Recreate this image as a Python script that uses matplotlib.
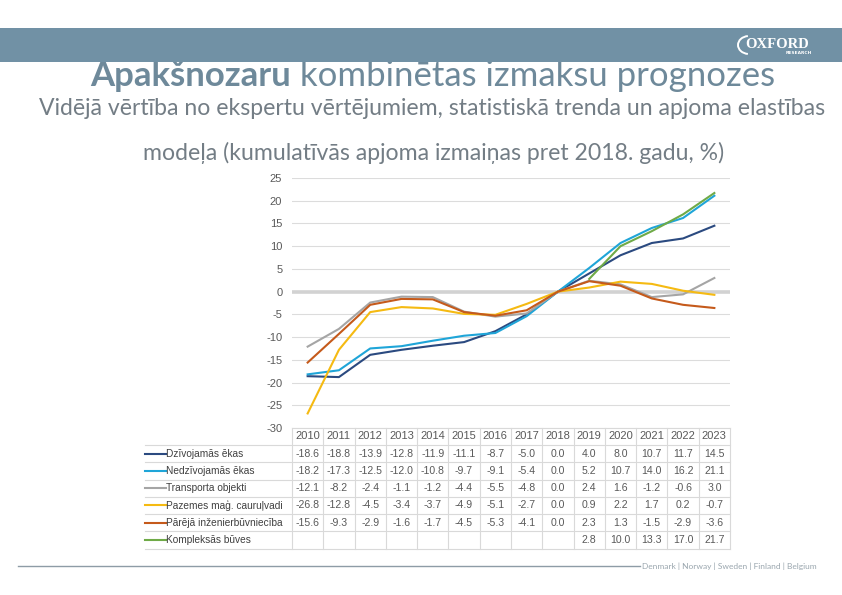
import matplotlib
matplotlib.use("Agg")
import matplotlib.pyplot as plt
import matplotlib.transforms as mtransforms
from matplotlib.patches import Rectangle, Arc
from matplotlib.lines import Line2D
import numpy as np

# ---------------- data ----------------
years = [2010, 2011, 2012, 2013, 2014, 2015, 2016, 2017, 2018, 2019, 2020, 2021, 2022, 2023]
series_names = ["Dzīvojamās ēkas", "Nedzīvojamās ēkas", "Transporta objekti",
                "Pazemes maģ. cauruļvadi", "Pārējā inženierbūvniecība", "Kompleksās būves"]
dzivojamas = [-18.6, -18.8, -13.9, -12.8, -11.9, -11.1, -8.7, -5.0, 0.0, 4.0, 8.0, 10.7, 11.7, 14.5]
nedzivojamas = [-18.2, -17.3, -12.5, -12.0, -10.8, -9.7, -9.1, -5.4, 0.0, 5.2, 10.7, 14.0, 16.2, 21.1]
transporta = [-12.1, -8.2, -2.4, -1.1, -1.2, -4.4, -5.5, -4.8, 0.0, 2.4, 1.6, -1.2, -0.6, 3.0]
pazemes = [-26.8, -12.8, -4.5, -3.4, -3.7, -4.9, -5.1, -2.7, 0.0, 0.9, 2.2, 1.7, 0.2, -0.7]
parejas = [-15.6, -9.3, -2.9, -1.6, -1.7, -4.5, -5.3, -4.1, 0.0, 2.3, 1.3, -1.5, -2.9, -3.6]
kompleksas = [None, None, None, None, None, None, None, None, None, 2.8, 10.0, 13.3, 17.0, 21.7]
series_values = [dzivojamas, nedzivojamas, transporta, pazemes, parejas, kompleksas]
series_colors = ["#2B4A80", "#1FA5D8", "#A5A5A5", "#F5BA12", "#C55A1B", "#6FAA47"]
y_ticks = [25, 20, 15, 10, 5, 0, -5, -10, -15, -20, -25, -30]

title_bold = "Apakšnozaru"
title_rest = " kombinētas izmaksu prognozes"
subtitle1 = "Vidējā vērtība no ekspertu vērtējumiem, statistiskā trenda un apjoma elastības"
subtitle2 = "modeļa (kumulatīvās apjoma izmaiņas pret 2018. gadu, %)"
footer_text = "Denmark | Norway | Sweden | Finland | Belgium"

# ---------------- figure ----------------
W, H = 842, 595
fig = plt.figure(figsize=(W / 100, H / 100), dpi=100)
fig.patch.set_facecolor("white")

def fx(px):
    return px / W

def fy(py):
    return 1 - py / H

# banner
fig.add_artist(Rectangle((0, fy(62)), 1, (62 - 28) / H, transform=fig.transFigure,
                         facecolor="#7191A5", edgecolor="none", zorder=5))
# logo
fig.text(fx(777), fy(44.5), "OXFORD", color="white", fontsize=10.5, fontweight="bold",
         family="Liberation Serif", ha="center", va="center", zorder=6)
fig.text(fx(812), fy(53.5), "RESEARCH", color="white", fontsize=3.2, fontweight="bold",
         family="DejaVu Sans", ha="right", va="center", zorder=6)
fig.add_artist(Arc((fx(749), fy(45)), fx(22), (18 / H), theta1=95, theta2=265,
                   transform=fig.transFigure, color="white", lw=1.4, zorder=6))

# ---------------- titles (fit to measured widths) ----------------
renderer = fig.canvas.get_renderer()

def text_width(t):
    return t.get_window_extent(renderer=renderer).width

title_color = "#6E899A"
t1 = fig.text(0, fy(86.5), title_bold, family="Lato", fontweight="bold", fontsize=26,
              color=title_color, va="baseline", ha="left")
t2 = fig.text(0, fy(86.5), title_rest, family="Lato", fontsize=26,
              color=title_color, va="baseline", ha="left")
wtot = text_width(t1) + text_width(t2)
scale = (775 - 90) / wtot
for t in (t1, t2):
    t.set_fontsize(26 * scale)
w1 = text_width(t1)
w2 = text_width(t2)
x0 = 432.5 - (w1 + w2) / 2
t1.set_x(fx(x0))
t2.set_x(fx(x0 + w1))

sub_color = "#737D85"
s1 = fig.text(fx(432), fy(115), subtitle1, family="Lato", fontsize=14,
              color=sub_color, va="baseline", ha="center")
s1.set_fontsize(14 * (826 - 38) / text_width(s1))
s2 = fig.text(fx(433.5), fy(160), subtitle2, family="Lato",
              fontsize=s1.get_fontsize(), color=sub_color, va="baseline", ha="center")

# ---------------- chart ----------------
ax_left, ax_right, ax_top, ax_bottom = 292, 730, 178, 428
ax = fig.add_axes([fx(ax_left), fy(ax_bottom), fx(ax_right - ax_left), (ax_bottom - ax_top) / H])
ax.set_xlim(years[0] - 0.5, years[-1] + 0.5)
ax.set_ylim(-30, 25)
for s in ax.spines.values():
    s.set_visible(False)
ax.set_xticks([])
ax.set_yticks(y_ticks)
ax.set_yticklabels([str(v) for v in y_ticks], family="Liberation Sans", fontsize=8, color="#595959")
ax.tick_params(axis="y", length=0, pad=7)
for v in y_ticks:
    if v == 0:
        continue
    ax.axhline(v, color="#DCDCDC", lw=0.8, zorder=1)
ax.axhline(0, color="#D2D2D2", lw=2.6, zorder=1)

for vals, col in zip(series_values, series_colors):
    arr = np.array([np.nan if v is None else v for v in vals], dtype=float)
    ax.plot(years, arr, color=col, lw=1.5, zorder=3, solid_joinstyle="round")

# ---------------- table ----------------
trans = mtransforms.blended_transform_factory(ax.transData, fig.transFigure)
grid_col = "#D9D9D9"
tbl_left = 145
header_c = 436
row_top = 445
row_h = 17.25
n_rows = len(series_names)
row_edges = [row_top + i * row_h for i in range(n_rows + 1)]

# horizontal lines
fig.add_artist(Line2D([fx(ax_left), fx(ax_right)], [fy(ax_bottom), fy(ax_bottom)],
                      transform=fig.transFigure, color=grid_col, lw=0.8))
for ye in row_edges:
    fig.add_artist(Line2D([fx(tbl_left), fx(ax_right)], [fy(ye), fy(ye)],
                          transform=fig.transFigure, color=grid_col, lw=0.8))
# vertical lines
for i in range(len(years) + 1):
    xv = years[0] - 0.5 + i
    fig.add_artist(Line2D([xv, xv], [fy(ax_bottom), fy(row_edges[-1])], transform=trans,
                          color=grid_col, lw=0.8))

num_color = "#595959"
for yr in years:
    fig.text(yr, fy(header_c), str(yr), transform=trans, ha="center", va="center",
             family="Liberation Sans", fontsize=8, color=num_color)

for r, (name, vals, col) in enumerate(zip(series_names, series_values, series_colors)):
    yc = (row_edges[r] + row_edges[r + 1]) / 2
    fig.add_artist(Line2D([fx(145), fx(166)], [fy(yc), fy(yc)], transform=fig.transFigure,
                          color=col, lw=1.5))
    fig.text(fx(166.5), fy(yc), name, ha="left", va="center", family="Liberation Sans",
             fontsize=7.3, color="#404040")
    for yr, v in zip(years, vals):
        if v is None:
            continue
        fig.text(yr, fy(yc), f"{v:.1f}", transform=trans, ha="center", va="center",
                 family="Liberation Sans", fontsize=7.6, color=num_color)

# ---------------- footer ----------------
fig.add_artist(Line2D([fx(18), fx(640)], [fy(566), fy(566)], transform=fig.transFigure,
                      color="#8E9CA6", lw=1.0))
fig.text(fx(642), fy(566), footer_text, ha="left", va="center", family="Lato",
         fontsize=6.0, color="#9AA6AE")

fig.savefig("out.png", dpi=100)
